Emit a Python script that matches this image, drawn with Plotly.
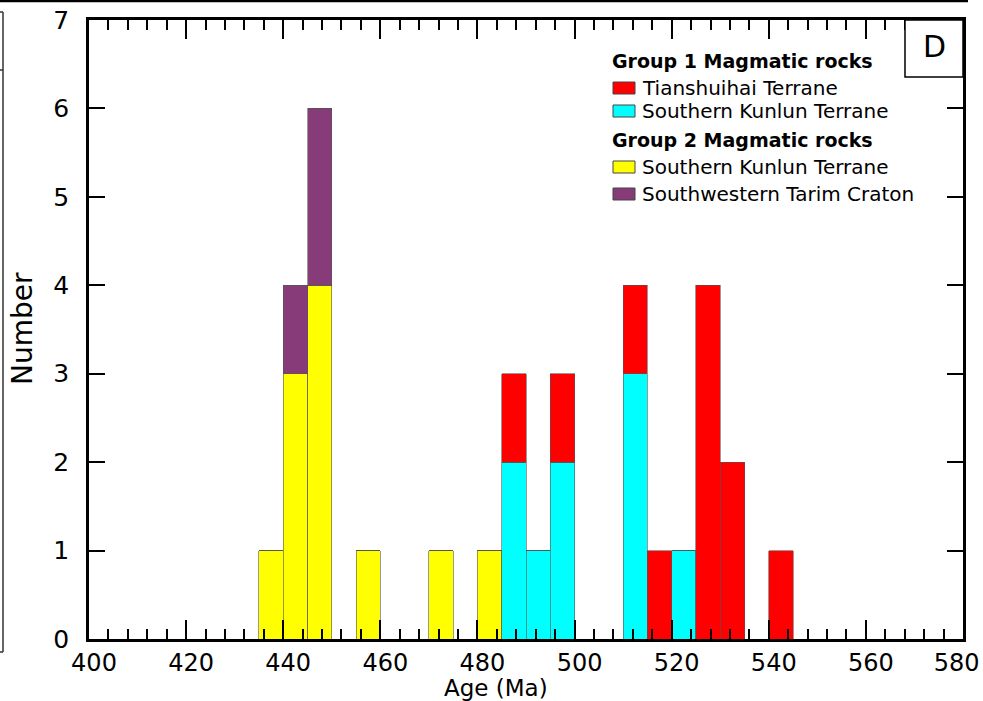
import plotly.graph_objects as go

# ---- data (5 Ma bins, left edges) ----
bin_starts = [435, 440, 445, 455, 470, 480, 485, 490, 495, 510, 515, 520, 525, 530, 540]
g1_tianshuihai = [0, 0, 0, 0, 0, 0, 1, 0, 1, 1, 1, 0, 4, 2, 1]
g1_south_kunlun = [0, 0, 0, 0, 0, 0, 2, 1, 2, 3, 0, 1, 0, 0, 0]
g2_south_kunlun = [1, 3, 4, 1, 1, 1, 0, 0, 0, 0, 0, 0, 0, 0, 0]
g2_sw_tarim = [0, 1, 2, 0, 0, 0, 0, 0, 0, 0, 0, 0, 0, 0, 0]
bin_width = 5

x_tick_values = [400, 420, 440, 460, 480, 500, 520, 540, 560, 580]
x_tick_labels = ["400", "420", "440", "460", "480", "500", "520", "540", "560", "580"]

legend_groups = ["Group 1 Magmatic rocks", "Group 2 Magmatic rocks"]
series_names = ["Tianshuihai Terrane", "Southern Kunlun Terrane",
                "Southern Kunlun Terrane", "Southwestern Tarim Craton"]
colors = ["#FF0000", "#00FFFF", "#FFFF00", "#873B78"]

W, H = 983, 701
L, R, T, B = 89, 20, 20, 62
pw, ph = W - L - R, H - T - B


def px(x):
    return (x - L) / pw


def py(y):
    return 1 - (y - T) / ph


FONT = "DejaVu Sans, Liberation Sans, Arial, sans-serif"

centers = [s + bin_width / 2 for s in bin_starts]

# last label nudged left so it stays inside the picture
tick_text = list(x_tick_labels)
tick_text[-1] = tick_text[-1] + "&nbsp;&nbsp;&nbsp;"

fig = go.Figure()
# stacking order: bottom first
for vals, col in [(g2_south_kunlun, colors[2]), (g1_south_kunlun, colors[1]),
                  (g2_sw_tarim, colors[3]), (g1_tianshuihai, colors[0])]:
    fig.add_trace(go.Bar(
        x=centers, y=vals, width=[bin_width] * len(centers),
        marker=dict(color=col, line=dict(color="#555555", width=0.6)),
        showlegend=False,
    ))

fig.update_layout(
    width=W, height=H, barmode="stack",
    margin=dict(l=L, r=R, t=T, b=B, autoexpand=False),
    plot_bgcolor="white", paper_bgcolor="white",
    font=dict(family=FONT, color="black"),
    xaxis=dict(range=[400, 580], tickvals=x_tick_values, ticktext=tick_text,
               ticks="inside", ticklen=19, tickwidth=2, tickcolor="black",
               minor=dict(dtick=4, ticks="inside", ticklen=10, tickwidth=1.5, tickcolor="black"),
               showline=True, linecolor="black", linewidth=2.5, mirror="allticks",
               showgrid=False, zeroline=False, automargin=False,
               ticklabelstandoff=0, ticklabelshift=5, ticklabeloverflow="allow",
               tickfont=dict(size=24, family=FONT)),
    yaxis=dict(range=[0, 7], dtick=1,
               ticks="inside", ticklen=16, tickwidth=2, tickcolor="black",
               showline=True, linecolor="black", linewidth=2.5, mirror="allticks",
               showgrid=False, zeroline=False, automargin=False,
               ticklabelstandoff=12, ticklabeloverflow="allow",
               tickfont=dict(size=25, family=FONT)),
)

annotations = [
    dict(text="Age (Ma)", x=px(496), y=py(688), xref="paper", yref="paper",
         showarrow=False, font=dict(size=23, family=FONT), xanchor="center", yanchor="middle"),
    dict(text="Number", x=px(22), y=py(329), xref="paper", yref="paper", textangle=-90,
         showarrow=False, font=dict(size=28, family=FONT), xanchor="center", yanchor="middle"),
    dict(text="D", x=px(934), y=py(47), xref="paper", yref="paper",
         showarrow=False, font=dict(size=30, family=FONT), xanchor="center", yanchor="middle"),
]

shapes = [
    # D box
    dict(type="rect", xref="paper", yref="paper", x0=px(905), x1=px(963), y0=py(77), y1=py(20),
         line=dict(color="black", width=1.5), fillcolor="white"),
    # neighbouring frame lines
    dict(type="line", xref="paper", yref="paper", x0=px(0), x1=px(968), y0=py(1), y1=py(1),
         line=dict(color="black", width=2.5)),
    dict(type="line", xref="paper", yref="paper", x0=px(3), x1=px(3), y0=py(12), y1=py(652),
         line=dict(color="#333333", width=1.5)),
    dict(type="line", xref="paper", yref="paper", x0=px(0), x1=px(3), y0=py(12), y1=py(12),
         line=dict(color="#333333", width=1.5)),
    dict(type="line", xref="paper", yref="paper", x0=px(0), x1=px(3), y0=py(70), y1=py(70),
         line=dict(color="#333333", width=1.5)),
    dict(type="line", xref="paper", yref="paper", x0=px(0), x1=px(3), y0=py(652), y1=py(652),
         line=dict(color="#333333", width=1.5)),
]

# custom legend
header_y = [61, 140]
entry_y = [88, 111, 167, 194]
for gname, yy in zip(legend_groups, header_y):
    annotations.append(dict(text="<b>" + gname + "</b>", x=px(610), y=py(yy), xref="paper", yref="paper",
                            showarrow=False, xanchor="left", yanchor="middle",
                            font=dict(size=19, family=FONT)))
for name, col, yy in zip(series_names, colors, entry_y):
    shapes.append(dict(type="rect", xref="paper", yref="paper",
                       x0=px(613), x1=px(635), y0=py(yy + 6), y1=py(yy - 6),
                       fillcolor=col, line=dict(color="#444444", width=1)))
    annotations.append(dict(text=name, x=px(640), y=py(yy), xref="paper", yref="paper",
                            showarrow=False, xanchor="left", yanchor="middle",
                            font=dict(size=20, family=FONT)))

fig.update_layout(annotations=annotations, shapes=shapes)
fig.write_html("out.html", config={"displayModeBar": False},
               post_script="document.body.style.margin='0';document.body.style.overflow='hidden';")
